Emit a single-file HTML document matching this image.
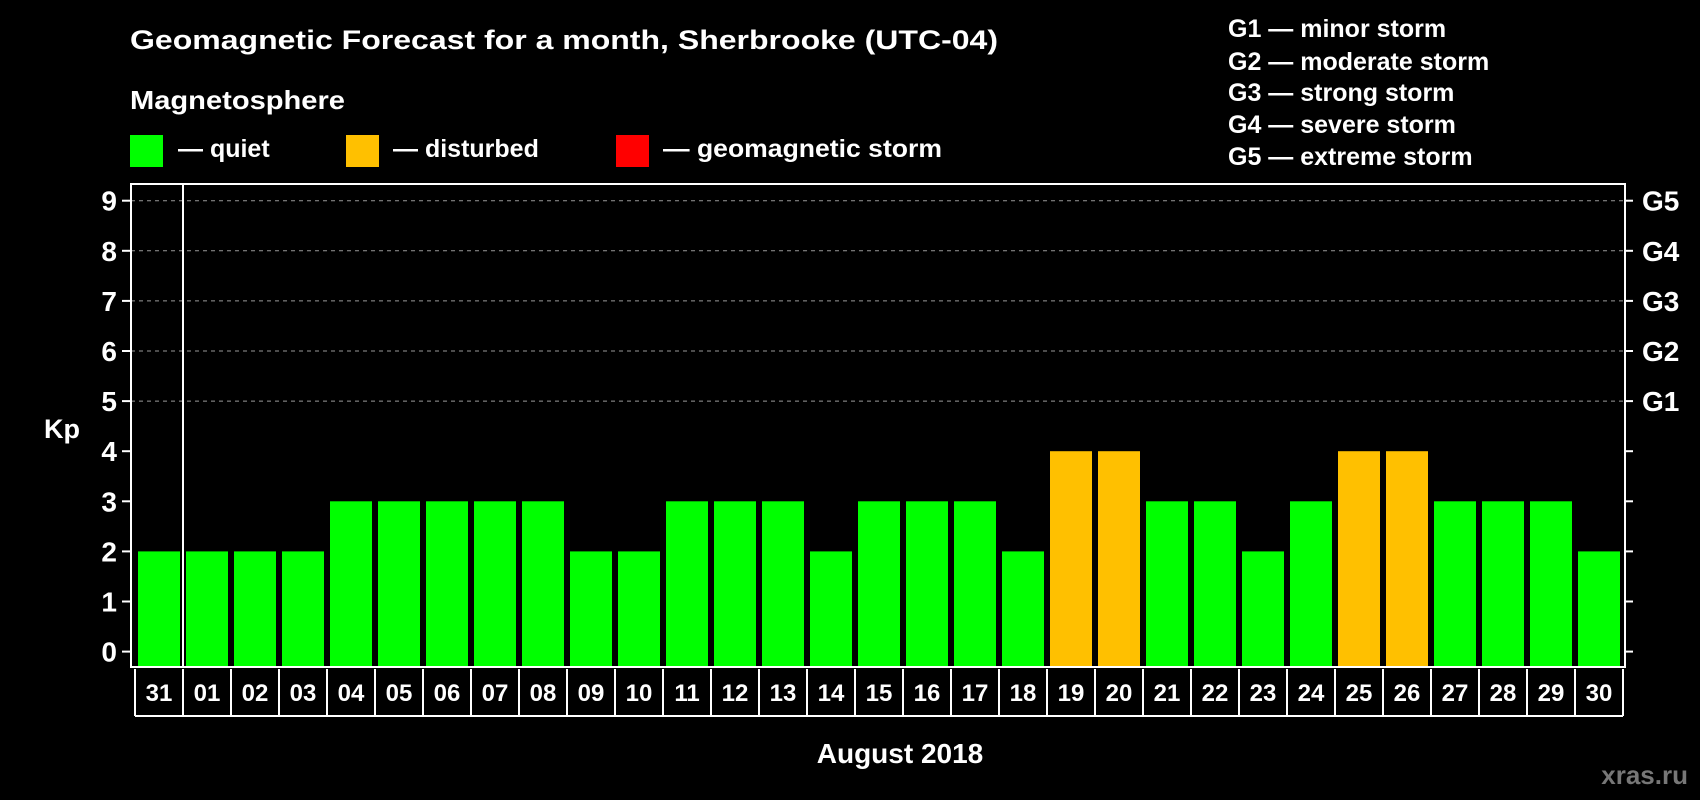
<!DOCTYPE html>
<html><head><meta charset="utf-8"><style>
html,body{margin:0;padding:0;background:#000;}
svg{display:block;font-family:"Liberation Sans",Arial,sans-serif;font-weight:bold;}
</style></head><body>
<svg id="chart" width="1700" height="800" viewBox="0 0 1700 800" xmlns="http://www.w3.org/2000/svg">
<rect x="0" y="0" width="1700" height="800" fill="#000"/>
<text x="130" y="49" fill="#fff" font-size="27" textLength="868" lengthAdjust="spacingAndGlyphs">Geomagnetic Forecast for a month, Sherbrooke (UTC-04)</text>
<text x="130" y="109" fill="#fff" font-size="26" textLength="215" lengthAdjust="spacingAndGlyphs">Magnetosphere</text>
<g><rect x="130" y="135" width="33" height="32" fill="#00ff00"/><text x="178" y="157" fill="#fff" font-size="25">— quiet</text></g>
<g><rect x="346" y="135" width="33" height="32" fill="#ffc000"/><text x="393" y="157" fill="#fff" font-size="25">— disturbed</text></g>
<g><rect x="616" y="135" width="33" height="32" fill="#ff0000"/><text x="663" y="157" fill="#fff" font-size="25" textLength="279" lengthAdjust="spacingAndGlyphs">— geomagnetic storm</text></g>
<g fill="#fff" font-size="25">
<text x="1228" y="37">G1 — minor storm</text>
<text x="1228" y="70">G2 — moderate storm</text>
<text x="1228" y="101">G3 — strong storm</text>
<text x="1228" y="133">G4 — severe storm</text>
<text x="1228" y="165">G5 — extreme storm</text>
</g>
<text x="62" y="438" fill="#fff" font-size="27" text-anchor="middle">Kp</text>
<text x="900" y="763" fill="#fff" font-size="28" text-anchor="middle">August 2018</text>
<text x="1688" y="784" fill="#777" font-size="26" text-anchor="end">xras.ru</text>
<g id="grid"></g><g id="bars"></g><g id="axes"></g><g id="labels"></g>
</svg>
<script>
const days = ["31","01","02","03","04","05","06","07","08","09","10","11","12","13","14","15","16","17","18","19","20","21","22","23","24","25","26","27","28","29","30"];
const kpValues = [2,2,2,2,3,3,3,3,3,2,2,3,3,3,2,3,3,3,2,4,4,3,3,2,3,4,4,3,3,3,2];
const yTicks = [0,1,2,3,4,5,6,7,8,9];
const gLabels = ["","","","","","G1","G2","G3","G4","G5"];
const NS="http://www.w3.org/2000/svg";
const L=131,R=1625,T=184,B=667,Y0=651.6,UNIT=50.1,X0=159,PITCH=48,BW=42;
const LB0=669,LB1=716;
const y=v=>Y0-v*UNIT;
const x=i=>X0+i*PITCH;
function mk(tag,attrs,parent){const e=document.createElementNS(NS,tag);for(const k in attrs)e.setAttribute(k,attrs[k]);parent.appendChild(e);return e;}
const grid=document.getElementById('grid'),bars=document.getElementById('bars'),axes=document.getElementById('axes'),labels=document.getElementById('labels');
yTicks.forEach((t,i)=>{
  if(t>=5){const g=mk('line',{x1:L,x2:R,y1:y(t),y2:y(t),stroke:'#999','stroke-width':1,'stroke-dasharray':'4,4'},grid);
  
  }
  const tl=mk('line',{x1:L-9,x2:L,y1:y(t),y2:y(t),stroke:'#fff','stroke-width':2},axes);
  
  
  const tr=mk('line',{x1:R,x2:R+8,y1:y(t),y2:y(t),stroke:'#fff','stroke-width':2},axes);
  
  
  const lt=mk('text',{x:117,y:y(t)+10,fill:'#fff','font-size':28,'text-anchor':'end'},labels);
  lt.textContent=t;
  
  
  if(gLabels[i]){const gt=mk('text',{x:1642,y:y(t)+10,fill:'#fff','font-size':28},labels);
  gt.textContent=gLabels[i];
  
  }
});
kpValues.forEach((v,i)=>{
  const b=mk('rect',{x:x(i)-BW/2,y:y(v),width:BW,height:B-1-y(v),fill:v>=5?'#ff0000':(v>=4?'#ffc000':'#00ff00')},bars);
  
  
  const dt=mk('text',{x:x(i),y:701,fill:'#fff','font-size':24,'text-anchor':'middle'},labels);
  dt.textContent=days[i];
  
  
  const sep=mk('line',{x1:x(i)-PITCH/2,x2:x(i)-PITCH/2,y1:LB0,y2:LB1,stroke:'#fff','stroke-width':2},axes);
  
  
});
const last=mk('line',{x1:x(kpValues.length-1)+PITCH/2,x2:x(kpValues.length-1)+PITCH/2,y1:LB0,y2:LB1,stroke:'#fff','stroke-width':2},axes);


const bl=mk('line',{x1:x(0)-PITCH/2,x2:x(kpValues.length-1)+PITCH/2,y1:LB1,y2:LB1,stroke:'#fff','stroke-width':2},axes);


const frame=mk('rect',{x:L,y:T,width:R-L,height:B-T,fill:'none',stroke:'#fff','stroke-width':2},axes);


const ms=mk('line',{x1:x(0)+PITCH/2,x2:x(0)+PITCH/2,y1:T,y2:B,stroke:'#fff','stroke-width':2},axes);


</script>
</body></html>
